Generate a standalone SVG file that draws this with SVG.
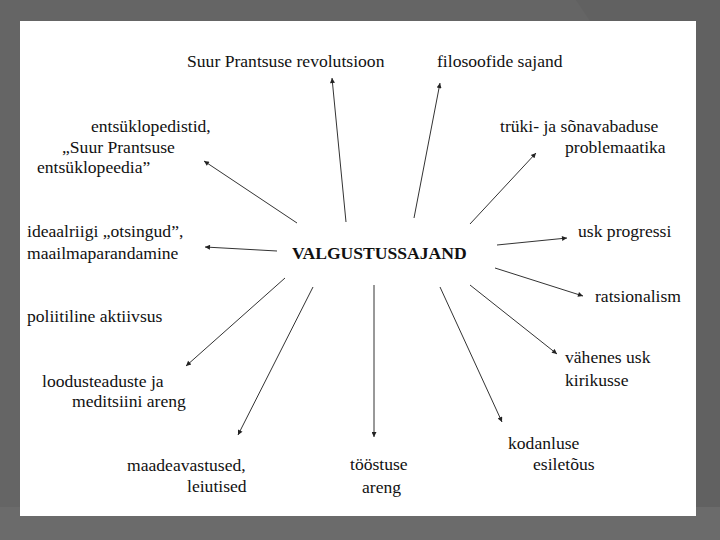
<svg xmlns="http://www.w3.org/2000/svg" width="720" height="540" viewBox="0 0 720 540">
<defs>
<marker id="ah" viewBox="0 0 10 10" refX="10" refY="5" markerWidth="7" markerHeight="5" markerUnits="userSpaceOnUse" orient="auto">
<path d="M0,0 L10,5 L0,10 Z" fill="#222"/>
</marker>
</defs>
<style>
text{font-family:'Liberation Serif','Times New Roman','DejaVu Serif',serif;font-size:17.6px;fill:#111}
.b{font-weight:bold}
.c line{stroke:#333;stroke-width:1;marker-end:url(#ah)}
</style>
<rect x="0" y="0" width="720" height="540" fill="#656565"/>
<polygon points="576,0 720,0 720,540 700,540 590,21" fill="#616161"/>
<polygon points="0,507 720,507 720,540 0,540" fill="#6b6b6b"/>
<rect x="20" y="21" width="676" height="495" fill="#ffffff"/>
<g class="c" id="connectors">
<line x1="346" y1="222" x2="332" y2="78"/>
<line x1="414" y1="218" x2="440" y2="83"/>
<line x1="470" y1="224" x2="536" y2="153"/>
<line x1="497" y1="245" x2="567" y2="238"/>
<line x1="495" y1="268" x2="583" y2="296"/>
<line x1="470" y1="285" x2="557" y2="354"/>
<line x1="440" y1="287" x2="502" y2="422"/>
<line x1="374" y1="285" x2="374" y2="437"/>
<line x1="313" y1="287" x2="238" y2="435"/>
<line x1="285" y1="278" x2="186" y2="366"/>
<line x1="277" y1="251" x2="205" y2="247"/>
<line x1="297" y1="223" x2="204" y2="161"/>
</g>
<g id="center"><text class="b" x="292" y="259" font-family="Liberation Serif, serif">VALGUSTUSSAJAND</text></g>
<g id="n1"><text x="187" y="67">Suur Prantsuse revolutsioon</text></g>
<g id="n2"><text x="437" y="67">filosoofide sajand</text></g>
<g id="n3"><text x="500" y="132">trüki- ja sõnavabaduse</text><text x="565" y="153">problemaatika</text></g>
<g id="n4"><text x="578" y="237">usk progressi</text></g>
<g id="n5"><text x="595" y="302">ratsionalism</text></g>
<g id="n6"><text x="565" y="363">vähenes usk</text><text x="565" y="386">kirikusse</text></g>
<g id="n7"><text x="508" y="449">kodanluse</text><text x="533" y="470">esiletõus</text></g>
<g id="n8"><text x="350" y="470">tööstuse</text><text x="362" y="493">areng</text></g>
<g id="n9"><text x="127" y="471">maadeavastused,</text><text x="187" y="492">leiutised</text></g>
<g id="n10"><text x="42" y="387">loodusteaduste ja</text><text x="72" y="407">meditsiini areng</text></g>
<g id="n11"><text x="27" y="322">poliitiline aktiivsus</text></g>
<g id="n12"><text x="27" y="237">ideaalriigi „otsingud”,</text><text x="27" y="259">maailmaparandamine</text></g>
<g id="n13"><text x="91" y="132">entsüklopedistid,</text><text x="62" y="153">„Suur Prantsuse</text><text x="37" y="173">entsüklopeedia”</text></g>
</svg>
